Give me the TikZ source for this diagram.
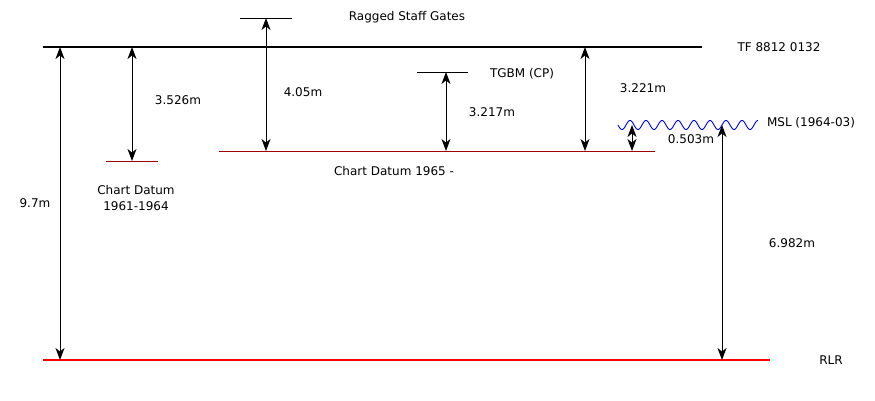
\documentclass[tikz,border=0pt]{standalone}
\usepackage{fontspec}
\setmainfont{DejaVu Sans}
\usetikzlibrary{arrows.meta}
\definecolor{cdred}{HTML}{A00000}
\tikzset{
  lbl/.style={inner sep=0pt, font=\fontsize{12pt}{16pt}\selectfont, align=center},
  tip/.style={Stealth[length=12pt,width=9pt,inset=3.5pt]},
  dim/.style={line width=1pt, {Stealth[length=12pt,width=9pt,inset=3.5pt]}-{Stealth[length=12pt,width=9pt,inset=3.5pt]}},
  thin datum/.style={line width=1pt, cdred},
  mark line/.style={line width=0.8pt, black},
}
\begin{document}
\begin{tikzpicture}[x=1pt,y=-1pt]
\useasboundingbox (0,0) rectangle (875,400);
% levels
\coordinate (TFl) at (43,47); \coordinate (TFr) at (702,47);
\coordinate (RLl) at (43,360); \coordinate (RLr) at (770,360);
\coordinate (CDal) at (106,161); \coordinate (CDar) at (158,161);
\coordinate (CDbl) at (219,151); \coordinate (CDbr) at (655,151);
\coordinate (RSl) at (240,18); \coordinate (RSr) at (292,18);
\coordinate (TGl) at (417,72); \coordinate (TGr) at (468,72);
\draw[line width=2pt] (TFl) -- (TFr);
\draw[line width=2pt, red] (RLl) -- (RLr);
\draw[thin datum] (CDal) -- (CDar);
\draw[thin datum] (CDbl) -- (CDbr);
\draw[mark line] (RSl) -- (RSr);
\draw[mark line] (TGl) -- (TGr);
% MSL wave
\draw[blue, line width=0.9pt] plot[domain=0:140, samples=240, smooth] ({\x+618}, {125 - 4.5*cos(22.5*(\x-12))});
% arrow end points
\coordinate (a1t) at (60,47); \coordinate (a1b) at (60,360);
\coordinate (a2t) at (132,47); \coordinate (a2b) at (132,161);
\coordinate (a3t) at (266,18); \coordinate (a3b) at (266,151);
\coordinate (a4t) at (446,72); \coordinate (a4b) at (446,151);
\coordinate (a5t) at (585,47); \coordinate (a5b) at (585,151);
\coordinate (a6t) at (632,125); \coordinate (a6b) at (632,151);
\coordinate (a7t) at (722,125); \coordinate (a7b) at (722,360);
\draw[dim] (a1t) -- (a1b);
\draw[dim] (a2t) -- (a2b);
\draw[dim] (a3t) -- (a3b);
\draw[dim] (a4t) -- (a4b);
\draw[dim] (a5t) -- (a5b);
\draw[dim] (a6t) -- (a6b);
\draw[dim] (a7t) -- (a7b);
% labels
\node[lbl] (tf) at (779,47) {TF 8812 0132};
\node[lbl] (rlr) at (831,360) {RLR};
\node[lbl] (l97) at (35,203) {9.7m};
\node[lbl] (l3526) at (178,100) {3.526m};
\node[lbl] (cda) at (136,198) {Chart Datum\\1961-1964};
\node[lbl] (l405) at (303,92) {4.05m};
\node[lbl] (rsg) at (407,17) {Ragged Staff Gates};
\node[lbl] (cdb) at (394,171) {Chart Datum 1965 -};
\node[lbl] (tgbm) at (522,74) {TGBM (CP)};
\node[lbl] (l3217) at (492,112) {3.217m};
\node[lbl] (l3221) at (643,88) {3.221m};
\node[lbl] (l0503) at (691,139) {0.503m};
\node[lbl] (l6982) at (792,243) {6.982m};
\node[lbl] (msl) at (811,123) {MSL (1964-03)};
\end{tikzpicture}
\end{document}
